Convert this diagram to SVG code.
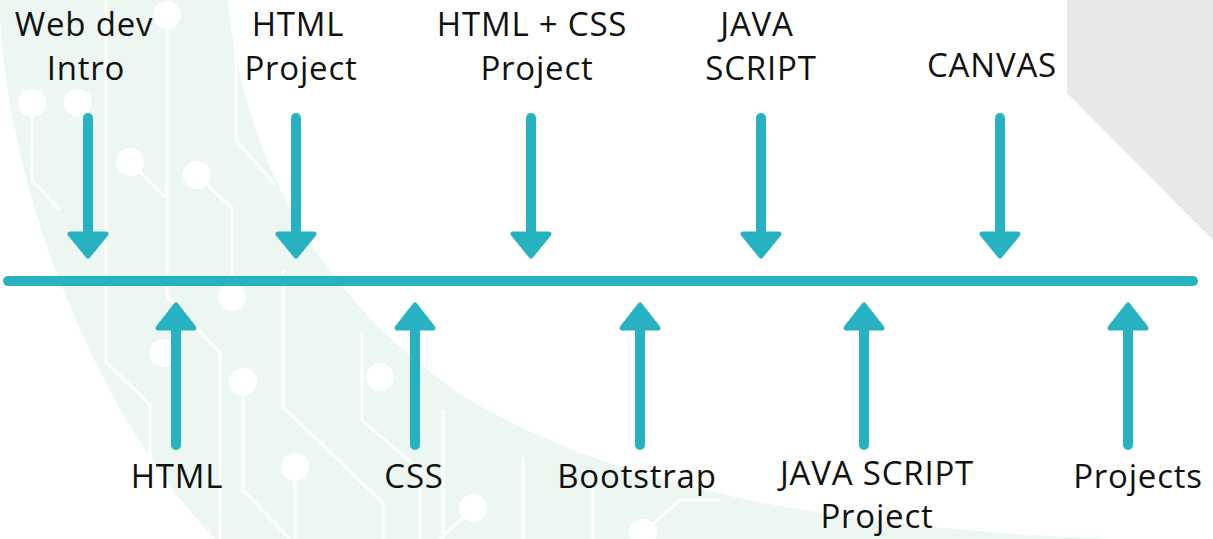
<svg xmlns="http://www.w3.org/2000/svg" xmlns:xlink="http://www.w3.org/1999/xlink" width="1213" height="539" viewBox="0 0 1213 539">
<style>
.lbl{font-family:"Open Sans","Liberation Sans",sans-serif;font-size:33px;letter-spacing:0.8px;fill:#111;text-anchor:middle}
.teal{stroke:#27b2c2;fill:#27b2c2}
.shaft{stroke-width:10;stroke-linecap:round;fill:none}
.head{stroke-width:5;stroke-linejoin:round}
.trace{stroke:#ffffff;stroke-width:3;fill:none;stroke-linejoin:miter}
.dot{fill:#ffffff}
</style>
<defs>
<clipPath id="bandClip"><path d="M0,0 L228,0 C240,130 300,290 470,400 C620,490 850,530 1120,539 L215,539 C100,420 10,200 0,20 Z"/></clipPath>
<g id="down"><line class="shaft teal" x1="0" y1="118" x2="0" y2="232"/><polygon class="head teal" points="-18,234 18,234 0,256"/></g>
<g id="up"><line class="shaft teal" x1="0" y1="330" x2="0" y2="445"/><polygon class="head teal" points="-18,328 18,328 0,305"/></g>
</defs>
<rect width="1213" height="539" fill="#ffffff"/>
<g id="background">
<polygon points="1067,0 1213,0 1213,240 1067,93" fill="#e8e8e8"/>
<g clip-path="url(#bandClip)">
<path d="M0,0 L228,0 C240,130 300,290 470,400 C620,490 850,530 1120,539 L215,539 C100,420 10,200 0,20 Z" fill="#edf7f2"/>
<polyline class="trace" points="167,15 167,297 220,353 220,539"/>
<polyline class="trace" points="32,103 32,180 60,210"/>
<polyline class="trace" points="106,0 106,362 150,405 150,539"/>
<polyline class="trace" points="130,162 165,197"/>
<polyline class="trace" points="197,175 232,208 232,297"/>
<polyline class="trace" points="236,0 236,140 275,185"/>
<polyline class="trace" points="243,382 243,490 290,539"/>
<polyline class="trace" points="283,270 283,407 383,503 383,539"/>
<polyline class="trace" points="295,467 295,539"/>
<polyline class="trace" points="362,333 362,420 420,470 420,539"/>
<polyline class="trace" points="443,410 443,539"/>
<polyline class="trace" points="473,508 440,539"/>
<polyline class="trace" points="523,457 523,539"/>
<polyline class="trace" points="593,487 593,539"/>
<polyline class="trace" points="643,533 680,500 720,500"/>
<circle class="dot" cx="167" cy="15" r="14"/>
<circle class="dot" cx="32" cy="103" r="14"/>
<circle class="dot" cx="78" cy="103" r="14"/>
<circle class="dot" cx="130" cy="162" r="14"/>
<circle class="dot" cx="197" cy="175" r="14"/>
<circle class="dot" cx="232" cy="297" r="14"/>
<circle class="dot" cx="163" cy="353" r="14"/>
<circle class="dot" cx="243" cy="382" r="14"/>
<circle class="dot" cx="295" cy="467" r="14"/>
<circle class="dot" cx="380" cy="377" r="14"/>
<circle class="dot" cx="473" cy="508" r="14"/>
<circle class="dot" cx="643" cy="533" r="14"/>
</g>
</g>
<g id="connectors">
<line id="timeline" class="shaft teal" x1="8" y1="281" x2="1193" y2="281"/>
<use xlink:href="#down" href="#down" x="88"/>
<use xlink:href="#down" href="#down" x="296"/>
<use xlink:href="#down" href="#down" x="531"/>
<use xlink:href="#down" href="#down" x="761"/>
<use xlink:href="#down" href="#down" x="1000"/>
<use xlink:href="#up" href="#up" x="176"/>
<use xlink:href="#up" href="#up" x="415"/>
<use xlink:href="#up" href="#up" x="640"/>
<use xlink:href="#up" href="#up" x="864"/>
<use xlink:href="#up" href="#up" x="1128"/>
</g>
<g id="node-webdev"><text class="lbl" x="84" y="36">Web dev</text><text class="lbl" x="86" y="80">Intro</text></g>
<g id="node-htmlproject"><text class="lbl" x="298" y="36">HTML</text><text class="lbl" x="301" y="80">Project</text></g>
<g id="node-htmlcssproject"><text class="lbl" x="532" y="36">HTML + CSS</text><text class="lbl" x="537" y="80">Project</text></g>
<g id="node-javascript"><text class="lbl" x="757" y="36">JAVA</text><text class="lbl" x="761" y="80">SCRIPT</text></g>
<g id="node-canvas"><text class="lbl" x="992" y="77">CANVAS</text></g>
<g id="node-html"><text class="lbl" x="177" y="488">HTML</text></g>
<g id="node-css"><text class="lbl" x="414" y="488">CSS</text></g>
<g id="node-bootstrap"><text class="lbl" x="637" y="488">Bootstrap</text></g>
<g id="node-jsproject"><text class="lbl" x="877" y="485">JAVA SCRIPT</text><text class="lbl" x="877" y="528">Project</text></g>
<g id="node-projects"><text class="lbl" x="1138" y="488">Projects</text></g>
</svg>
